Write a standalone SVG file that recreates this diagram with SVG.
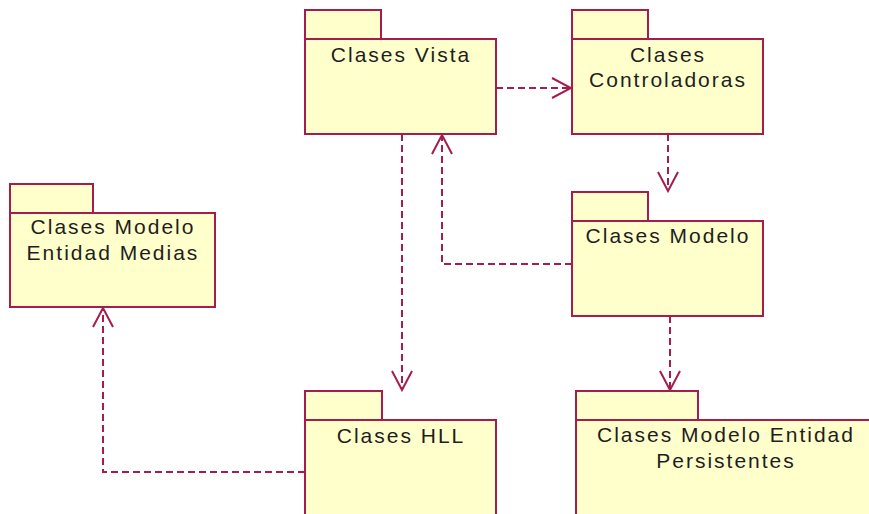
<svg xmlns="http://www.w3.org/2000/svg" width="869" height="514" viewBox="0 0 869 514">
  <style>
    .pkg rect { fill: #ffffcc; stroke: #a51c4f; stroke-width: 2; }
    .pkg text { font-family: "Liberation Sans", Arial, sans-serif; font-size: 21px; letter-spacing: 2px; fill: #1e1e1e; text-anchor: middle; }
    .dep path { fill: none; stroke: #a51c4f; stroke-width: 2; stroke-dasharray: 7 4; }
  </style>
  <defs>
    <marker id="open" viewBox="-22 -12 24 24" refX="0" refY="0" markerWidth="24" markerHeight="24" markerUnits="userSpaceOnUse" orient="auto">
      <path d="M-19,-10 L0,0 L-19,10" fill="none" stroke="#a51c4f" stroke-width="2"/>
    </marker>
  </defs>
  <rect width="869" height="514" fill="#ffffff"/>

  <!-- dependencies -->
  <g id="connectors" class="dep">
    <path d="M496,88 H571" marker-end="url(#open)"/>
    <path d="M668,134 V191" marker-end="url(#open)"/>
    <path d="M402,134 V390" marker-end="url(#open)"/>
    <path d="M572,264 H442 V135" marker-end="url(#open)"/>
    <path d="M670,316 V390" marker-end="url(#open)"/>
    <path d="M305,472 H103 V308" marker-end="url(#open)"/>
  </g>

  <g id="clases-vista" class="pkg">
    <rect x="305" y="10" width="76" height="29"/>
    <rect x="305" y="39" width="191" height="95"/>
    <text x="401" y="62">Clases Vista</text>
  </g>

  <g id="clases-controladoras" class="pkg">
    <rect x="572" y="10" width="76" height="29"/>
    <rect x="572" y="39" width="191" height="95"/>
    <text x="668" y="62">Clases</text>
    <text x="668" y="87">Controladoras</text>
  </g>

  <g id="clases-modelo" class="pkg">
    <rect x="572" y="192" width="76" height="29"/>
    <rect x="572" y="221" width="191" height="95"/>
    <text x="668" y="243">Clases Modelo</text>
  </g>

  <g id="clases-modelo-entidad-medias" class="pkg">
    <rect x="10" y="184" width="83" height="29"/>
    <rect x="10" y="213" width="205" height="94"/>
    <text x="113" y="234">Clases Modelo</text>
    <text x="113" y="260">Entidad Medias</text>
  </g>

  <g id="clases-hll" class="pkg">
    <rect x="305" y="391" width="77" height="29"/>
    <rect x="305" y="420" width="191" height="110"/>
    <text x="401" y="443">Clases HLL</text>
  </g>

  <g id="clases-modelo-entidad-persistentes" class="pkg">
    <rect x="576" y="391" width="122" height="29"/>
    <rect x="576" y="420" width="300" height="110"/>
    <text x="726" y="442">Clases Modelo Entidad</text>
    <text x="726" y="468">Persistentes</text>
  </g>
</svg>
